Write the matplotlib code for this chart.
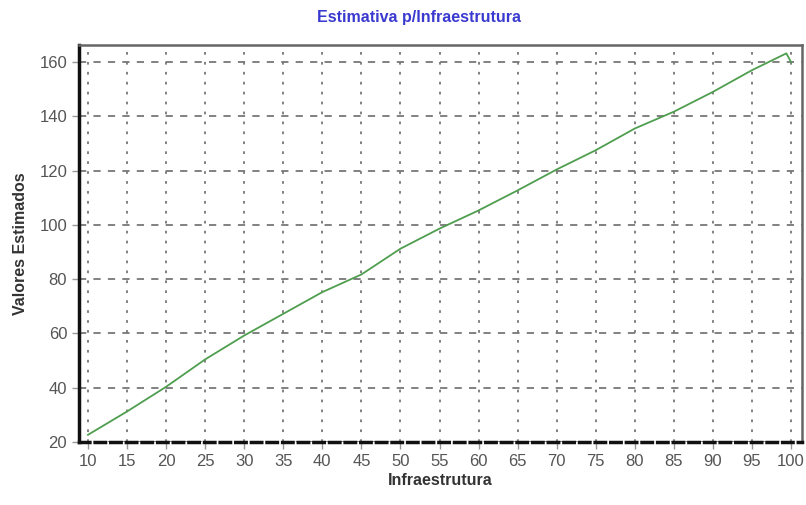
import matplotlib
matplotlib.use("Agg")
import matplotlib.pyplot as plt
from matplotlib.ticker import MultipleLocator

plt.rcParams['font.family'] = ['Liberation Sans', 'DejaVu Sans']

infra = [10, 15, 20, 25, 30, 35, 40, 45, 50, 55, 60, 65, 70, 75, 80, 85, 90, 95, 99.4, 100]
estimado = [22.6, 31.2, 40.3, 50.4, 59.2, 67.2, 75.2, 81.7, 91.2, 98.6, 105.3, 112.7,
            120.4, 127.5, 135.5, 141.7, 149.0, 157.0, 163.2, 160.0]
x_ticks = list(range(10, 101, 5))
y_ticks = [20, 40, 60, 80, 100, 120, 140, 160]

fig = plt.figure(figsize=(8.06, 5.05), dpi=100)
ax = fig.add_axes([0.098, 0.125, 0.897, 0.786])

ax.plot(infra, estimado, color='#4f9e4f', linewidth=1.3)

ax.set_xlim(8.85, 101.4)
ax.set_ylim(20, 166.3)
ax.set_xticks(x_ticks)
ax.set_yticks(y_ticks)

ax.xaxis.grid(True, color='#777777', linestyle=(0, (1.5, 4)), linewidth=1.3)
ax.yaxis.grid(True, color='#777777', linestyle=(0, (4, 4)), linewidth=1.3)

for s in ['left', 'bottom']:
    ax.spines[s].set_color('#111111')
    ax.spines[s].set_linewidth(2.5)
for s in ['top', 'right']:
    ax.spines[s].set_color('#666666')
    ax.spines[s].set_linewidth(1.8)
ax.spines['bottom'].set_linestyle((0, (3, 1.5)))

ax.tick_params(axis='both', direction='out', length=5, width=1, color='#999999',
               labelsize=12, labelcolor='#555555')

ax.set_xlabel('Infraestrutura', fontsize=11.5, fontweight='bold', color='#333333', labelpad=3)
ax.set_ylabel('Valores Estimados', fontsize=11.5, fontweight='bold', color='#333333', labelpad=8)

fig.text(0.52, 0.965, 'Estimativa p/Infraestrutura', ha='center', va='center',
         fontsize=11.5, fontweight='bold', color='#3a3ad0')

fig.savefig('out.png', dpi=100)
